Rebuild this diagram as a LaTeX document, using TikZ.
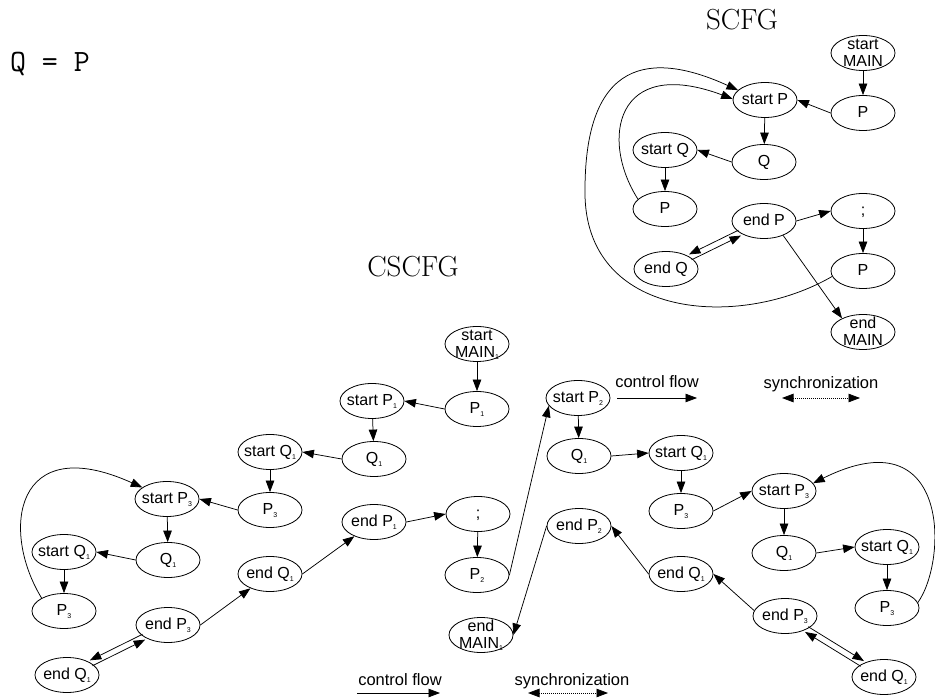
\documentclass[tikz,border=0pt]{standalone}
\usepackage{fontspec}
\newfontfamily\nodefont{Liberation Sans}
\usetikzlibrary{shapes.geometric,arrows.meta}
% small lowered index, e.g. P_1
\newcommand\sub[1]{\raisebox{-2.5pt}{\fontsize{7}{7}\selectfont #1}}
% node text that never enlarges its ellipse
\newcommand\nt[1]{\smash{\makebox[0pt]{\raisebox{-5.5pt}{\begin{tabular}{@{}c@{}}#1\end{tabular}}}}}
\begin{document}
\begin{tikzpicture}[x=1pt,y=-1pt,
  el/.style={draw, ellipse, line width=0.8pt, minimum width=64pt, minimum height=35pt,
    inner sep=0pt, font=\nodefont\fontsize{16}{17}\selectfont},
  arr/.style={line width=0.75pt, -{Triangle[length=11.5pt,width=8.5pt]}},
  syncarr/.style={line width=0.75pt, dash pattern=on 1pt off 1pt,
    {Triangle[length=11.5pt,width=8.5pt]}-{Triangle[length=11.5pt,width=8.5pt]}},
  legtext/.style={anchor=base, inner sep=0pt, font=\nodefont\fontsize{16.5}{18}\selectfont},
  title/.style={anchor=base, inner sep=0pt, font=\fontsize{29}{32}\selectfont}]
\path[use as bounding box] (0,0) rectangle (935,700);

% program text and titles
\node[anchor=base, inner sep=0pt, font=\ttfamily\fontsize{31}{34}\selectfont] (prog) at (50,72) {Q = P};
\node[title] (scfgt) at (742,30) {SCFG};
\node[title] (cscfgt) at (413,277) {CSCFG};

% ---------------- SCFG ----------------
\node[el] (smain)    at (863,53)  {\nt{start\\MAIN}};
\node[el] (sP1)      at (863,113) {\nt{P}};
\node[el] (sstartP)  at (765,100) {\nt{start P}};
\node[el] (sQ)       at (764,162) {\nt{Q}};
\node[el] (sstartQ)  at (665,150) {\nt{start Q}};
\node[el] (sP2)      at (665,209) {\nt{P}};
\node[el] (sendP)    at (764,221) {\nt{end P}};
\node[el] (ssemi)    at (863,211) {\nt{;}};
\node[el] (sendQ)    at (666,269) {\nt{end Q}};
\node[el] (sP3)      at (863,271) {\nt{P}};
\node[el] (sendMAIN) at (863,332) {\nt{end\\MAIN}};

\draw[arr] (smain) -- (sP1);
\draw[arr] (sP1.west) -- (sstartP.east);
\draw[arr] (sstartP) -- (sQ);
\draw[arr] (sQ.west) -- (sstartQ.east);
\draw[arr] (sstartQ) -- (sP2);
\draw[arr] (sendP.east) -- (ssemi.west);
\draw[arr] (ssemi) -- (sP3);
\draw[arr] (sendP.-37) -- (sendMAIN.147);
\draw[arr, transform canvas={shift={(-1.3pt,2.7pt)}}] (sendP) -- (sendQ);
\draw[arr, transform canvas={shift={(1.3pt,-2.7pt)}}] (sendQ) -- (sendP);
\draw[arr] (sP2.160) .. controls (600,140) and (615,55) .. (sstartP.178);
\draw[arr] (sP3.190) .. controls (740,330) and (583,320) .. (585,190)
                     .. controls (585,60) and (650,50) .. (sstartP.160);

% ---------------- CSCFG ----------------
\node[el] (cmain)     at (477,344) {\nt{start\\MAIN\sub1}};
\node[el] (cP1)       at (477,409) {\nt{P\sub1}};
\node[el] (cstartP1)  at (372,401) {\nt{start P\sub1}};
\node[el] (cQ1a)      at (374,459) {\nt{Q\sub1}};
\node[el] (cstartQ1a) at (270,452) {\nt{start Q\sub1}};
\node[el] (cP3a)      at (270,510) {\nt{P\sub3}};
\node[el] (cstartP3a) at (167,499) {\nt{start P\sub3}};
\node[el] (cQ1b)      at (168,560) {\nt{Q\sub1}};
\node[el] (cstartQ1b) at (64,552)  {\nt{start Q\sub1}};
\node[el] (cP3b)      at (64,611)  {\nt{P\sub3}};
\node[el] (cendP3a)   at (168,625) {\nt{end P\sub3}};
\node[el] (cendQ1a)   at (67,675)  {\nt{end Q\sub1}};
\node[el] (cendQ1b)   at (270,574) {\nt{end Q\sub1}};
\node[el] (cendP1)    at (374,522) {\nt{end P\sub1}};
\node[el] (csemi)     at (478,514) {\nt{;}};
\node[el] (cP2)       at (477,575) {\nt{P\sub2}};
\node[el] (cstartP2)  at (578,398) {\nt{start P\sub2}};
\node[el] (cQ1c)      at (579,456) {\nt{Q\sub1}};
\node[el] (cstartQ1c) at (681,453) {\nt{start Q\sub1}};
\node[el] (cP3c)      at (681,511) {\nt{P\sub3}};
\node[el] (cstartP3b) at (784,491) {\nt{start P\sub3}};
\node[el] (cQ1d)      at (784,553) {\nt{Q\sub1}};
\node[el] (cstartQ1d) at (887,547) {\nt{start Q\sub1}};
\node[el] (cP3d)      at (887,608) {\nt{P\sub3}};
\node[el] (cendP3b)   at (785,616) {\nt{end P\sub3}};
\node[el] (cendQ1c)   at (884,677) {\nt{end Q\sub1}};
\node[el] (cendQ1d)   at (681,574) {\nt{end Q\sub1}};
\node[el] (cendP2)    at (579,526) {\nt{end P\sub2}};
\node[el] (cendMAIN)  at (481,635) {\nt{end\\MAIN\sub1}};

\draw[arr] (cmain) -- (cP1);
\draw[arr] (cP1.west) -- (cstartP1.east);
\draw[arr] (cstartP1) -- (cQ1a);
\draw[arr] (cQ1a.west) -- (cstartQ1a.east);
\draw[arr] (cstartQ1a) -- (cP3a);
\draw[arr] (cP3a.west) -- (cstartP3a.east);
\draw[arr] (cstartP3a) -- (cQ1b);
\draw[arr] (cQ1b.west) -- (cstartQ1b.east);
\draw[arr] (cstartQ1b) -- (cP3b);
\draw[arr] (cP3b.150) .. controls (0,530) and (15,430) .. (cstartP3a.155);
\draw[arr, transform canvas={shift={(-1.3pt,2.7pt)}}] (cendP3a) -- (cendQ1a);
\draw[arr, transform canvas={shift={(1.3pt,-2.7pt)}}] (cendQ1a) -- (cendP3a);
\draw[arr] (cendP3a.east) -- (cendQ1b);
\draw[arr] (cendQ1b.east) -- (cendP1);
\draw[arr] (cendP1.east) -- (csemi.west);
\draw[arr] (csemi) -- (cP2);
\draw[arr] (cP2.east) -- (cstartP2.195);
\draw[arr] (cstartP2) -- (cQ1c);
\draw[arr] (cQ1c.east) -- (cstartQ1c.west);
\draw[arr] (cstartQ1c) -- (cP3c);
\draw[arr] (cP3c.east) -- (cstartP3b.west);
\draw[arr] (cstartP3b) -- (cQ1d);
\draw[arr] (cQ1d.east) -- (cstartQ1d.west);
\draw[arr] (cstartQ1d) -- (cP3d);
\draw[arr] (cP3d.10) .. controls (948,560) and (950,415) .. (cstartP3b.15);
\draw[arr, transform canvas={shift={(1.6pt,2.6pt)}}] (cendP3b) -- (cendQ1c);
\draw[arr, transform canvas={shift={(-1.6pt,-2.6pt)}}] (cendQ1c) -- (cendP3b);
\draw[arr] (cendP3b.170) -- (cendQ1d.east);
\draw[arr] (cendQ1d.west) -- (cendP2.east);
\draw[arr] (cendP2.west) -- (cendMAIN.east);

% ---------------- legends ----------------
\node[legtext] (cf1) at (657,388) {control flow};
\coordinate (cf1a) at (617,398); \coordinate (cf1b) at (697,398);
\draw[arr] (cf1a) -- (cf1b);
\node[legtext] (sy1) at (821,389) {synchronization};
\coordinate (sy1a) at (782,398); \coordinate (sy1b) at (860,398);
\draw[syncarr] (sy1a) -- (sy1b);

\node[legtext] (cf2) at (400,685) {control flow};
\coordinate (cf2a) at (357,693); \coordinate (cf2b) at (440,693);
\draw[arr] (cf2a) -- (cf2b);
\node[legtext] (sy2) at (572,685) {synchronization};
\coordinate (sy2a) at (528,693); \coordinate (sy2b) at (608,693);
\draw[syncarr] (sy2a) -- (sy2b);
\end{tikzpicture}
\end{document}
